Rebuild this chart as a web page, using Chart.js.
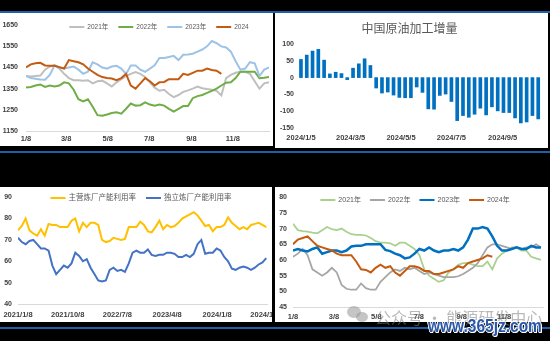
<!DOCTYPE html>
<html>
<head>
<meta charset="utf-8">
<script src="https://cdn.jsdelivr.net/npm/chart.js@4.4.0/dist/chart.umd.min.js"></script>
<style>
  html, body { margin: 0; padding: 0; background: #000; width: 550px; height: 341px; overflow: hidden; }
  body { position: relative; font-family: 'Liberation Sans', 'Noto Sans CJK SC', sans-serif; }
  .panel { position: absolute; background: #fff; }
  .rule { position: absolute; left: 0; width: 550px; height: 2px; background: #1f5fa8; }
  #p1 { left: 0; top: 13px; width: 273px; height: 133px; }
  #p2 { left: 275px; top: 13px; width: 273px; height: 135px; }
  #p3 { left: 0; top: 187px; width: 272px; height: 135px; }
  #p4 { left: 275px; top: 187px; width: 273px; height: 135px; }
  .wm { position: absolute; white-space: nowrap; }
  #wm1 { left: 375px; top: 309px; font: 16px 'Noto Sans CJK SC', sans-serif; line-height: 16px; color: rgba(128,128,128,0.55); }
  #wm2 { left: 428px; top: 317px; font: bold 18px 'Liberation Sans', sans-serif; line-height: 18px; color: #2b57a6;
         transform: scaleX(0.86); transform-origin: left top;
         text-shadow: 1px 0 #fff, -1px 0 #fff, 0 1px #fff, 0 -1px #fff, 1px 1px #fff, -1px -1px #fff; }
  .wx { position: absolute; border-radius: 50%; background: rgba(150,150,150,0.55); }
</style>
</head>
<body>
<div class="rule" style="top:11px"></div>
<div class="rule" style="top:151px"></div>
<div class="rule" style="top:327px"></div>
<div class="panel" id="p1"><canvas id="c1" width="273" height="133"></canvas></div>
<div class="panel" id="p2"><canvas id="c2" width="273" height="135"></canvas></div>
<div class="panel" id="p3"><canvas id="c3" width="272" height="135"></canvas></div>
<div class="panel" id="p4"><canvas id="c4" width="273" height="135"></canvas></div>
<div class="wx" style="left:347px;top:306px;width:14px;height:12px"></div>
<div class="wx" style="left:356px;top:312px;width:12px;height:10px"></div>
<div class="wm" id="wm1">公众号 · 能源研发中心</div>
<div class="wm" id="wm2">www.365jz.com</div>
<script>
// 图1：周度数据（1/8起）
const c1Ticks = ['1/8', '3/8', '5/8', '7/8', '9/8', '11/8'];
const c1Names = ['2021年', '2022年', '2023年', '2024'];
const c1_2021 = [1410,1408,1410,1412,1440,1455,1460,1445,1420,1400,1390,1390,1388,1390,1375,1385,1388,1375,1360,1380,1395,1410,1420,1428,1420,1405,1380,1355,1340,1345,1325,1310,1320,1335,1342,1350,1360,1352,1348,1345,1340,1318,1400,1415,1425,1430,1430,1420,1385,1350,1375,1380];
const c1_2022 = [1355,1358,1365,1370,1358,1365,1360,1365,1380,1375,1345,1300,1290,1300,1265,1225,1222,1228,1235,1238,1232,1255,1280,1270,1272,1285,1275,1270,1275,1270,1255,1242,1255,1268,1268,1305,1315,1320,1330,1340,1350,1365,1378,1380,1400,1430,1430,1430,1430,1400,1402,1405];
const c1_2023 = [1410,1400,1397,1393,1392,1415,1460,1450,1445,1450,1455,1440,1420,1430,1475,1465,1450,1445,1455,1458,1445,1420,1460,1460,1440,1430,1445,1460,1495,1495,1500,1505,1485,1510,1512,1515,1525,1535,1550,1575,1565,1550,1545,1525,1480,1440,1445,1475,1470,1410,1440,1450];
const c1_2024 = [1450,1465,1470,1472,1460,1458,1458,1452,1445,1485,1480,1475,1465,1445,1430,1415,1405,1400,1398,1390,1400,1420,1365,1350,1375,1400,1385,1365,1380,1382,1395,1395,1395,1420,1415,1425,1435,1435,1445,1438,1435,1420];

// 图2：中国原油加工增量（2024/1/5起，周度）
const c2Start = '2024/1/5';
const c2Ticks = ['2024/1/5', '2024/3/5', '2024/5/5', '2024/7/5', '2024/9/5'];
const c2Values = [54,67,79,84,52,11,16,12,-6,28,41,56,36,-31,-46,-43,-52,-59,-60,-60,-28,-44,-93,-94,-53,-49,-71,-128,-113,-118,-109,-91,-111,-87,-99,-104,-104,-120,-135,-132,-113,-123];

// 图3：产能利用率（2021/1/8起，每3周取一点）
const c3Start = '2021/1/8';
const c3Ticks = ['2021/1/8', '2021/10/8', '2022/7/8', '2023/4/8', '2024/1/8', '2024/10/8'];
const c3Names = ['主营炼厂产能利用率', '独立炼厂产能利用率'];
const c3Main = [74.5,76.5,80,74.5,73,72,75,72,77.5,77,77,76,76,76,79,80,74,78,76,78,78,77,70,69,69.5,71,70.5,70,70.5,76,76,76,78.5,77,74,73.5,76,79,75,77,76,76.5,78,80,81,82,83,81.5,79,76.5,77,74,76,76,77,80.5,78,76.5,75,76,75,77,77.5,78,77,76];
const c3Indep = [71,69,68,69.5,70,68,66,66,65,58,54,56,58,57,59,64,62.5,60,61,57,54,51,50.5,51,56,57,55.5,56,55,59,64,65,64,64,65.5,63,62.5,63,63,64,64,63.5,62,62,63,62,63.5,68,70,63.5,64,64,66,65,62,60,56.5,56,57,57.5,57,56,57,58.5,59.5,61.5];

// 图4：周度数据（1/8起）
const c4Ticks = ['1/8', '3/8', '5/8', '7/8', '9/8', '11/8'];
const c4Names = ['2021年', '2022年', '2023年', '2024年'];
const c4_2021 = [71.5,69.5,69.2,69,68.7,68.5,69.5,70.5,69.8,69.5,70,69,68.2,68,68,67.8,67,66,65.5,65.5,65.3,64.5,65.5,65.5,64.5,63.5,61.5,57,55,54,53,53.5,56,57,58.5,59,59,58.5,58,58,59.5,57,60.5,62,63,64,64,63,63,61,60.5,60];
const c4_2022 = [61,62,63.5,61.5,57,56,55,56,57.5,56,52,50.8,50.5,50.5,52.5,51,50.5,50.5,53,54.5,56,57,56.5,57.5,57,57.5,56.5,55.5,56,55.5,55,54.5,54.5,54.5,54.8,55.5,56.5,57.5,59,61.5,64,65,65,64.5,64,63.5,64,63.5,64,64,65,64];
const c4_2023 = [63,63.5,63,62.7,63.5,64,62,62.5,63,63,62.5,63,64.3,64.5,64.5,65,65,65,65,63.2,62.8,62,61.5,60.5,60.8,62,63.5,63,64,63,62.5,63,63,63.5,63,64,66.5,70,70,70.5,70,67.5,64.5,63,63,63.5,64,63.5,63.5,64.5,64,64];
const c4_2024 = [65,66.5,67,67.5,66,64.5,64,63.5,63,62,61.5,61.5,61.5,59.5,57,56.8,56,57.5,58.5,57.5,58,56,55,56.5,58,58,57.5,56.5,56.5,55.5,55.5,56,56.5,57,58,57.5,59,59.5,60,60.5,61.5,61];

const FONT = "'Liberation Sans', 'Noto Sans CJK SC', sans-serif";
Chart.defaults.font.family = FONT;
Chart.defaults.color = '#404040';

const DAY = 86400000;
function toUTC(s) {
    const p = s.split('/').map(Number);
    return Date.UTC(p[0], p[1] - 1, p[2]);
}
// 距起始日的天数
function daysFrom(start, s) { return Math.round((toUTC(s) - toUTC(start)) / DAY); }
function monthDay(s) { return daysFrom('2021/1/8', '2021/' + s); }
function series(values, step) { return values.map((v, i) => ({ x: i * step, y: v })); }

// 图例画在绘图区内
const inLegend = {
    id: 'inLegend',
    afterDraw(chart, args, o) {
        if (!o || !o.cx) return;
        const ctx = chart.ctx;
        ctx.save();
        ctx.font = o.size + 'px ' + FONT;
        ctx.textBaseline = 'middle';
        const items = chart.data.datasets.map(d => ({ text: d.label, color: d.borderColor, w: ctx.measureText(d.label).width }));
        const total = items.reduce((s, it) => s + o.line + 3 + it.w, 0) + o.gap * (items.length - 1);
        let x = o.cx - total / 2;
        items.forEach(it => {
            ctx.strokeStyle = it.color;
            ctx.lineWidth = o.lw;
            ctx.beginPath();
            ctx.moveTo(x, o.cy);
            ctx.lineTo(x + o.line, o.cy);
            ctx.stroke();
            x += o.line + 3;
            ctx.fillStyle = '#595959';
            ctx.fillText(it.text, x, o.cy);
            x += it.w + o.gap;
        });
        ctx.restore();
    }
};

function xAxis(min, max, tickDays, tickLabels, h, pad, border) {
    return {
        type: 'linear', min: min, max: max, offset: false,
        grid: { display: false, offset: false, drawTicks: false },
        border: { display: border, color: '#d9d9d9' },
        ticks: {
            autoSkip: false, maxRotation: 0, padding: pad,
            font: { size: 7.5, weight: 'bold' },
            callback: (v, i) => tickLabels[i]
        },
        afterBuildTicks: s => { s.ticks = tickDays.map(v => ({ value: v })); },
        afterFit: s => { s.height = h; s.paddingLeft = 0; s.paddingRight = 0; }
    };
}
function yAxis(min, max, step, w, pad) {
    return {
        min: min, max: max,
        grid: { display: false, drawTicks: false },
        border: { display: false },
        ticks: { stepSize: step, padding: pad, font: { size: 7, weight: 'bold' }, callback: v => String(v) },
        afterFit: s => { s.width = w; }
    };
}
function lineSet(label, values, color, width, order) {
    return {
        label: label, data: series(values, 7), borderColor: color, backgroundColor: color,
        borderWidth: width, pointRadius: 0, tension: 0, order: order
    };
}

// 图1
new Chart(document.getElementById('c1'), {
    type: 'line',
    data: {
        datasets: [
            lineSet(c1Names[0], c1_2021, '#bfbfbf', 2, 4),
            lineSet(c1Names[1], c1_2022, '#70ad47', 2, 3),
            lineSet(c1Names[2], c1_2023, '#9dc3e6', 2, 2),
            lineSet(c1Names[3], c1_2024, '#c55a11', 2, 1)
        ]
    },
    options: {
        responsive: false, animation: false,
        layout: { padding: { top: 7, right: 4, bottom: 1, left: 0 } },
        plugins: { legend: { display: false }, tooltip: { enabled: false },
            inLegend: { cx: 159, cy: 14, size: 6.5, line: 15, gap: 10, lw: 2 } },
        scales: {
            x: xAxis(0, 357, c1Ticks.map(monthDay), c1Ticks, 14, 3, true),
            y: yAxis(1150, 1650, 100, 26, 8)
        }
    },
    plugins: [inLegend]
});

// 图2
new Chart(document.getElementById('c2'), {
    type: 'bar',
    data: {
        datasets: [{
            label: '中国原油加工增量',
            data: series(c2Values, 7),
            backgroundColor: '#0070c0',
            barThickness: 3
        }]
    },
    options: {
        responsive: false, animation: false,
        layout: { padding: { top: 0, right: 4, bottom: 0, left: 0 } },
        plugins: {
            legend: { display: false }, tooltip: { enabled: false },
            title: { display: true, text: '中国原油加工增量', color: '#595959',
                font: { size: 12, weight: 'normal', family: "'Noto Sans CJK SC', sans-serif" },
                padding: { top: 8, bottom: 8.6 } }
        },
        scales: {
            x: xAxis(-6, 294, c2Ticks.map(t => daysFrom(c2Start, t)), c2Ticks, 20, 5, false),
            y: yAxis(-150, 100, 50, 21, 2)
        }
    }
});

// 图3
new Chart(document.getElementById('c3'), {
    type: 'line',
    data: {
        datasets: [
            { label: c3Names[0], data: series(c3Main, 21), borderColor: '#ffc000', backgroundColor: '#ffc000',
              borderWidth: 2, pointRadius: 0, tension: 0 },
            { label: c3Names[1], data: series(c3Indep, 21), borderColor: '#4472c4', backgroundColor: '#4472c4',
              borderWidth: 2, pointRadius: 0, tension: 0 }
        ]
    },
    options: {
        responsive: false, animation: false,
        layout: { padding: { top: 9, right: 5, bottom: 0, left: 0 } },
        plugins: { legend: { display: false }, tooltip: { enabled: false },
            inLegend: { cx: 141, cy: 11, size: 7.5, line: 15, gap: 10, lw: 2 } },
        scales: {
            x: xAxis(0, daysFrom(c3Start, '2024/10/8'), c3Ticks.map(t => daysFrom(c3Start, t)), c3Ticks, 18, 6, true),
            y: yAxis(40, 90, 10, 18, 6)
        }
    },
    plugins: [inLegend]
});

// 图4
new Chart(document.getElementById('c4'), {
    type: 'line',
    data: {
        datasets: [
            lineSet(c4Names[0], c4_2021, '#a9d18e', 1.75, 4),
            lineSet(c4Names[1], c4_2022, '#a5a5a5', 1.75, 3),
            lineSet(c4Names[2], c4_2023, '#0070c0', 2.5, 2),
            lineSet(c4Names[3], c4_2024, '#c55a11', 2, 1)
        ]
    },
    options: {
        responsive: false, animation: false,
        layout: { padding: { top: 10, right: 5, bottom: 0, left: 0 } },
        plugins: { legend: { display: false }, tooltip: { enabled: false },
            inLegend: { cx: 140, cy: 13, size: 7, line: 15, gap: 9, lw: 2 } },
        scales: {
            x: xAxis(0, 360, c4Ticks.map(monthDay), c4Ticks, 15, 5.5, true),
            y: yAxis(45, 80, 5, 18, 6)
        }
    },
    plugins: [inLegend]
});
</script>
</body>
</html>
